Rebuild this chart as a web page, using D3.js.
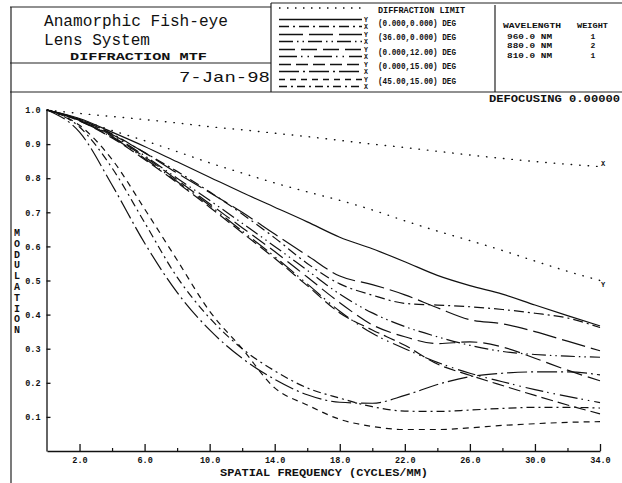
<!DOCTYPE html>
<html>
<head>
<meta charset="utf-8">
<script src="https://cdn.jsdelivr.net/npm/d3@7"></script>
<style>
  body { margin: 0; background: #fff; }
  svg { display: block; }
  text { font-family: "Liberation Mono", "DejaVu Sans Mono", monospace; fill: #111; }
  .b { font-weight: bold; }
</style>
</head>
<body>
<svg id="chart" width="622" height="483"></svg>
<script>
// spatial frequency samples (cycles/mm)
const freq = [0, 2, 4, 6, 8, 10, 12, 14, 16, 18, 20, 22, 24, 26, 28, 30, 32, 34];

// diffraction limit, X and Y directions
const diffX = [1, 0.99, 0.981, 0.972, 0.962, 0.951, 0.942, 0.932, 0.922, 0.911, 0.900, 0.89, 0.879, 0.868, 0.858, 0.849, 0.841, 0.834];
const diffY = [1, 0.972, 0.94, 0.91, 0.878, 0.845, 0.815, 0.786, 0.76, 0.735, 0.707, 0.675, 0.645, 0.617, 0.588, 0.557, 0.527, 0.50];

// field MTF, tangential (Y) and sagittal (X)
const f00T = [1, 0.975, 0.935, 0.893, 0.848, 0.803, 0.758, 0.715, 0.672, 0.627, 0.593, 0.555, 0.515, 0.485, 0.46, 0.428, 0.397, 0.367];
const f00S = [1, 0.972, 0.93, 0.875, 0.82, 0.76, 0.695, 0.625, 0.55, 0.49, 0.457, 0.433, 0.428, 0.423, 0.415, 0.404, 0.39, 0.362];
const f36T = [1, 0.973, 0.928, 0.875, 0.815, 0.758, 0.70, 0.636, 0.573, 0.513, 0.488, 0.458, 0.42, 0.385, 0.373, 0.35, 0.322, 0.294];
const f36S = [1, 0.97, 0.925, 0.866, 0.80, 0.735, 0.668, 0.60, 0.53, 0.46, 0.405, 0.365, 0.335, 0.31, 0.292, 0.283, 0.278, 0.275];
const f12T = [1, 0.97, 0.922, 0.862, 0.795, 0.725, 0.655, 0.585, 0.51, 0.435, 0.37, 0.335, 0.315, 0.32, 0.305, 0.272, 0.237, 0.206];
const f12S = [1, 0.968, 0.92, 0.858, 0.79, 0.72, 0.645, 0.57, 0.49, 0.41, 0.345, 0.30, 0.26, 0.228, 0.203, 0.18, 0.16, 0.142];
const f15T = [1, 0.968, 0.918, 0.855, 0.787, 0.715, 0.64, 0.565, 0.485, 0.405, 0.355, 0.31, 0.255, 0.222, 0.192, 0.163, 0.135, 0.109];
const f15S = [1, 0.935, 0.78, 0.61, 0.465, 0.355, 0.272, 0.21, 0.165, 0.143, 0.14, 0.163, 0.195, 0.218, 0.228, 0.232, 0.232, 0.223];
const f45T = [1, 0.955, 0.855, 0.71, 0.56, 0.41, 0.30, 0.185, 0.135, 0.093, 0.072, 0.063, 0.063, 0.068, 0.075, 0.08, 0.084, 0.086];
const f45S = [1, 0.95, 0.83, 0.67, 0.51, 0.39, 0.30, 0.235, 0.185, 0.155, 0.13, 0.117, 0.116, 0.12, 0.125, 0.128, 0.128, 0.126];

const fieldLabels = ["(0.000,0.000) DEG", "(36.00,0.000) DEG", "(0.000,12.00) DEG", "(0.000,15.00) DEG", "(45.00,15.00) DEG"];
const wavelengths = ["960.0 NM", "880.0 NM", "810.0 NM"];
const weights = ["1", "2", "1"];
const xTicks = [2, 6, 10, 14, 18, 22, 26, 30, 34];
const xMinor = [4, 8, 12, 16, 20, 24, 28, 32];
const yTicks = [0.1, 0.2, 0.3, 0.4, 0.5, 0.6, 0.7, 0.8, 0.9, 1.0];

// line styles per field: [tangential, sagittal]
const dashes = [
  ["none", "10,4,2,4"],
  ["24,6", "14,4,1.5,4,1.5,4"],
  ["16,6", "18,4,1.5,5,1.5,5"],
  ["12,5", "20,4,2,4"],
  ["6,5", "8,4,2,4"]
];
const fieldSeries = [[f00T, f00S], [f36T, f36S], [f12T, f12S], [f15T, f15S], [f45T, f45S]];

const svg = d3.select("#chart");
const ink = "#111";

const x = d3.scaleLinear().domain([0, 34]).range([47, 600]);
const y = d3.scaleLinear().domain([0, 1]).range([451, 110]);

// frame / header boxes
function hline(x1, x2, yy) {
  svg.append("line").attr("x1", x1).attr("x2", x2).attr("y1", yy).attr("y2", yy)
    .attr("stroke", "#222").attr("stroke-width", 1.2);
}
function vline(xx, y1, y2) {
  svg.append("line").attr("x1", xx).attr("x2", xx).attr("y1", y1).attr("y2", y2)
    .attr("stroke", "#222").attr("stroke-width", 1.2);
}
hline(10, 271, 7);
hline(271, 622, 3);
hline(10, 271, 63);
hline(10, 622, 92);
vline(11, 7, 483);
vline(271, 3, 92);
vline(495, 5, 92);

// title block
svg.append("text").attr("x", 44).attr("y", 26).attr("font-size", 16)
  .attr("textLength", 184).attr("lengthAdjust", "spacingAndGlyphs").text("Anamorphic Fish-eye");
svg.append("text").attr("x", 44).attr("y", 45).attr("font-size", 16)
  .attr("textLength", 106).attr("lengthAdjust", "spacingAndGlyphs").text("Lens System");
svg.append("text").attr("class", "b").attr("x", 70).attr("y", 60).attr("font-size", 10.5)
  .attr("textLength", 137).attr("lengthAdjust", "spacingAndGlyphs").text("DIFFRACTION MTF");
svg.append("text").attr("x", 179).attr("y", 82).attr("font-size", 15)
  .attr("textLength", 91).attr("lengthAdjust", "spacingAndGlyphs").text("7-Jan-98");

// legend
const lx0 = 279, lx1 = 362;
svg.append("line").attr("x1", lx0).attr("x2", lx1).attr("y1", 8).attr("y2", 8)
  .attr("stroke", ink).attr("stroke-width", 1.3).attr("stroke-dasharray", "1.5,6.5");
svg.append("text").attr("class", "b").attr("x", 378).attr("y", 12.5).attr("font-size", 8.5)
  .attr("textLength", 87).attr("lengthAdjust", "spacingAndGlyphs").text("DIFFRACTION LIMIT");

fieldLabels.forEach((lab, i) => {
  const yT = 19.5 + i * 15, yS = yT + 7;
  [yT, yS].forEach((yy, k) => {
    svg.append("line").attr("x1", lx0).attr("x2", lx1).attr("y1", yy).attr("y2", yy)
      .attr("stroke", ink).attr("stroke-width", 1.3)
      .attr("stroke-dasharray", dashes[i][k]);
    svg.append("text").attr("class", "b").attr("x", 366).attr("y", yy + 2.5)
      .attr("font-size", 6.5).attr("text-anchor", "middle").text(k === 0 ? "Y" : "X");
  });
  svg.append("text").attr("class", "b").attr("x", 378).attr("y", 25.5 + i * 14.6)
    .attr("font-size", 8.5).attr("textLength", 78).attr("lengthAdjust", "spacingAndGlyphs").text(lab);
});

// wavelength table
svg.append("text").attr("class", "b").attr("x", 503).attr("y", 28).attr("font-size", 8)
  .attr("textLength", 58).attr("lengthAdjust", "spacingAndGlyphs").text("WAVELENGTH");
svg.append("text").attr("class", "b").attr("x", 577).attr("y", 28).attr("font-size", 8)
  .attr("textLength", 31).attr("lengthAdjust", "spacingAndGlyphs").text("WEIGHT");
wavelengths.forEach((w, i) => {
  svg.append("text").attr("class", "b").attr("x", 507).attr("y", 38.5 + i * 9.8).attr("font-size", 8)
    .attr("textLength", 45).attr("lengthAdjust", "spacingAndGlyphs").text(w);
  svg.append("text").attr("class", "b").attr("x", 593).attr("y", 38.5 + i * 9.8).attr("font-size", 8)
    .attr("text-anchor", "middle").text(weights[i]);
});

svg.append("text").attr("class", "b").attr("x", 489).attr("y", 101.5).attr("font-size", 10)
  .attr("textLength", 131).attr("lengthAdjust", "spacingAndGlyphs").text("DEFOCUSING 0.00000");

// axes
const axisFont = g => g.selectAll("text")
  .attr("font-family", "Liberation Mono, monospace").attr("font-weight", "bold")
  .attr("font-size", 8.5).attr("fill", ink);

svg.append("g").attr("transform", "translate(0,451)")
  .call(d3.axisBottom(x).tickValues(xTicks).tickFormat(d3.format(".1f"))
    .tickSizeInner(-7).tickSizeOuter(0).tickPadding(6))
  .call(axisFont)
  .call(g => g.selectAll("line,path").attr("stroke", ink).attr("stroke-width", 1.3));
svg.append("g").attr("transform", "translate(0,451)")
  .call(d3.axisBottom(x).tickValues(xMinor).tickFormat("").tickSizeInner(-3).tickSizeOuter(0))
  .call(g => g.select("path").remove())
  .call(g => g.selectAll("line").attr("stroke", ink).attr("stroke-width", 1.2));
svg.append("g").attr("transform", "translate(46.5,0)")
  .call(d3.axisLeft(y).tickValues(yTicks).tickFormat(d3.format(".1f"))
    .tickSizeInner(-4).tickSizeOuter(0).tickPadding(6))
  .call(axisFont)
  .call(g => g.selectAll("line,path").attr("stroke", ink).attr("stroke-width", 1.3));

// axis titles
"MODULATION".split("").forEach((c, i) => {
  svg.append("text").attr("class", "b").attr("x", 17).attr("y", 236 + i * 10.8)
    .attr("font-size", 10).attr("text-anchor", "middle").text(c);
});
svg.append("text").attr("class", "b").attr("x", 220).attr("y", 476).attr("font-size", 10)
  .attr("textLength", 208).attr("lengthAdjust", "spacingAndGlyphs").text("SPATIAL FREQUENCY (CYCLES/MM)");

// curves
const line = d3.line()
  .x((d, i) => x(freq[i]))
  .y(d => y(d))
  .curve(d3.curveMonotoneX);

const plot = svg.append("g");
[diffX, diffY].forEach(s => {
  plot.append("path").attr("d", line(s)).attr("fill", "none")
    .attr("stroke", ink).attr("stroke-width", 1.4).attr("stroke-linecap", "round")
    .attr("stroke-dasharray", "0.5,8");
});
fieldSeries.forEach((pair, i) => {
  pair.forEach((s, k) => {
    plot.append("path").attr("d", line(s)).attr("fill", "none")
      .attr("stroke", ink).attr("stroke-width", 1.2)
      .attr("stroke-dasharray", dashes[i][k]);
  });
});

// direction marks at the ends of the diffraction limit curves
svg.append("text").attr("class", "b").attr("x", x(34) + 1).attr("y", y(diffX[diffX.length - 1]) - 1)
  .attr("font-size", 7).text("X");
svg.append("text").attr("class", "b").attr("x", x(34) + 1).attr("y", y(diffY[diffY.length - 1]) + 6)
  .attr("font-size", 7).text("Y");
</script>
</body>
</html>
